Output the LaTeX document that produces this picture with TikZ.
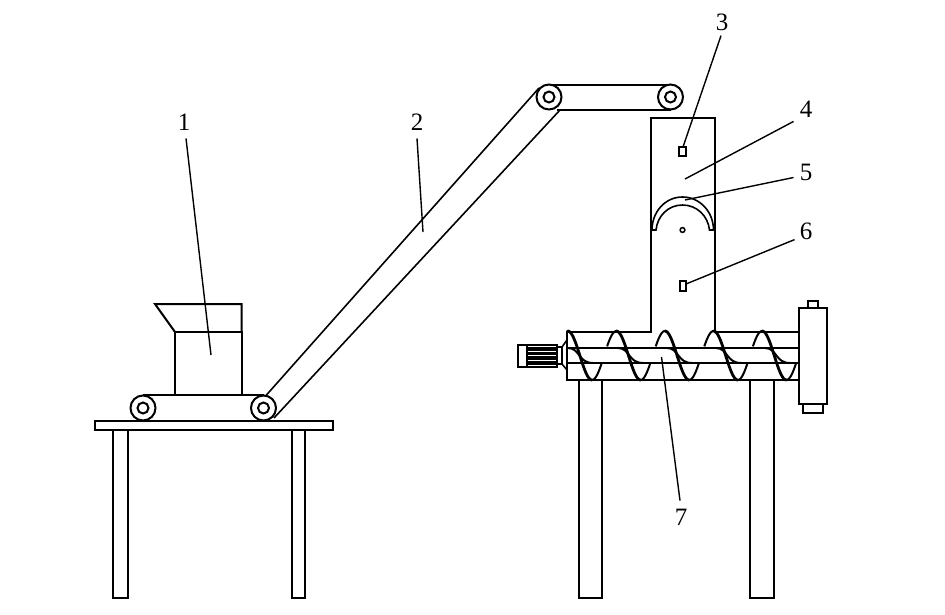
\documentclass[tikz,border=0pt]{standalone}
\usepackage{fontspec}
\setmainfont{Liberation Serif}
\begin{document}
\begin{tikzpicture}[x=1pt,y=-1pt,
  part/.style={draw=black,line width=2pt,fill=white},
  edge/.style={draw=black,line width=2pt},
  thin part/.style={draw=black,line width=1.6pt},
  leader/.style={draw=black,line width=1.4pt},
  num/.style={font=\fontsize{25}{25}\selectfont,inner sep=0pt,text=black},
  roller/.style={circle,draw=black,line width=2pt,fill=white,minimum size=25pt,inner sep=0pt},
  hub/.style={circle,draw=black,line width=2pt,fill=white,minimum size=11pt,inner sep=0pt},
  thread/.style={draw=black,line width=2.8pt,line cap=round},
  backthread/.style={draw=black,line width=2pt},
  shaftcurve/.style={draw=black,line width=2pt}]
\useasboundingbox (0,0) rectangle (945,614);
\fill[white] (0,0) rectangle (945,614);

% left table
\draw[part] (113,428) rectangle (127.5,598);
\draw[part] (292,428) rectangle (305,598);
\draw[part] (95,421) rectangle (333,430);

% hopper
\draw[edge] (175,395) -- (175,332) -- (241.5,332) -- (241.5,395);
\draw[edge] (175,332) -- (155,304) -- (241.5,304) -- (241.5,332);

% belts
\coordinate (r1) at (143,408);
\coordinate (r2) at (263.5,408);
\coordinate (r3) at (549,97);
\coordinate (r4) at (670.5,97);
\draw[edge] (143,395) -- (263.5,395);
\draw[edge] (143,421) -- (263.5,421);
\draw[thin part] (266,395.5) -- (539,88);
\draw[thin part] (274,418) -- (560,110);
\draw[edge] (549,84.5) -- (670.5,84.5);
\draw[edge] (557,110) -- (670.5,110);
\foreach \r/\n in {r1/a,r2/b,r3/c,r4/d}{
  \node[roller] (o\n) at (\r) {};
  \node[hub] (i\n) at (\r) {};
}

% right table legs
\draw[part] (579,380) rectangle (602,598);
\draw[part] (750,380) rectangle (774,598);

% tube and panel
\draw[part] (567,331.5) rectangle (800,380);
\draw[part] (651,333) -- (651,118) -- (714.5,118) -- (714.5,333);
\fill[white] (652.2,327) rectangle (713.3,334);
\draw[edge] (567,331.5) -- (651,331.5);
\draw[edge] (714.5,331.5) -- (800,331.5);

% back threads, thin, hidden by the shaft
\foreach \s in {592,640.6,689.2,737.8}{
  \draw[backthread] plot[domain=0:70,samples=12] ({\s+\x/180*24.3},{355.5+24.5*cos(\x)});
  \draw[backthread] plot[domain=112:180,samples=12] ({\s+\x/180*24.3},{355.5+24.5*cos(\x)});
}
\draw[backthread] plot[domain=0:70,samples=12] ({786.4+\x/180*24.3},{355.5+24.5*cos(\x)});

% shaft
\draw[thin part] (567,348) -- (799,348);
\draw[thin part] (567,363) -- (799,363);
\foreach \s in {568,618,667,716,765}{
  \draw[shaftcurve] (\s,348) .. controls (\s+12,348) and (\s+10,363) .. (\s+25,363);
}
% front threads, thick
\foreach \s in {567.7,616.3,664.9,713.5,762.1}{
  \draw[thread] plot[domain=0:180,samples=24] ({\s+\x/180*24.3},{355.5-24.5*cos(\x)});
}

% motor
\draw[part] (518,345) rectangle (556.5,367);
\fill[black] (527,347) rectangle (556,365);
\foreach \yy in {351,355.5,360}{ \draw[white,line width=.8pt] (527.5,\yy) -- (556,\yy); }
\draw[edge] (527,345) -- (527,367);
\draw[part] (556.5,347) rectangle (562,364);
\draw[thin part] (562,347) -- (567,340);
\draw[thin part] (562,364) -- (567,370);

% end cap
\draw[part] (808,301) rectangle (818,308);
\draw[part] (803,403) rectangle (823,413);
\draw[part] (799,308) rectangle (827,403.5);

% panel details
\draw[part] (679,147) rectangle (685.5,156);
\draw[part] (680,281) rectangle (685.5,291);
\draw[part,line width=1.5pt] (682.5,230) circle (2.4);
\draw[part,line width=1.6pt] (652,230) .. controls (652,212) and (665,197) .. (682.5,197)
  .. controls (700,197) and (713.5,212) .. (713.5,230) -- (709.5,230)
  .. controls (708,216) and (697,205) .. (682.5,205)
  .. controls (668,205) and (657.5,216) .. (656,230) -- cycle;

% labels
\node[num] (n1) at (184,122) {1};
\node[num] (n2) at (417,122) {2};
\node[num] (n3) at (722,22) {3};
\node[num] (n4) at (806,109) {4};
\node[num] (n5) at (806,172) {5};
\node[num] (n6) at (806,231) {6};
\node[num] (n7) at (681,517) {7};

% leader ends
\coordinate (t1) at (211,355);
\coordinate (t2) at (423,232);
\coordinate (t3) at (683,147);
\coordinate (t4) at (685,179);
\coordinate (t5) at (685,200);
\coordinate (t6) at (686,284);
\coordinate (t7) at (661.5,357);
\draw[leader] (n1.south) ++(2,8) -- (t1);
\draw[leader] (n2.south) ++(0,8) -- (t2);
\draw[leader] (n3.south) ++(-1,5) -- (t3);
\draw[leader] (n4.south west) ++(-6,4) -- (t4);
\draw[leader] (n5.south west) ++(-6,-3) -- (t5);
\draw[leader] (n6.south west) ++(-5,0) -- (t6);
\draw[leader] (n7.north) ++(-1,-8) -- (t7);
\end{tikzpicture}
\end{document}
